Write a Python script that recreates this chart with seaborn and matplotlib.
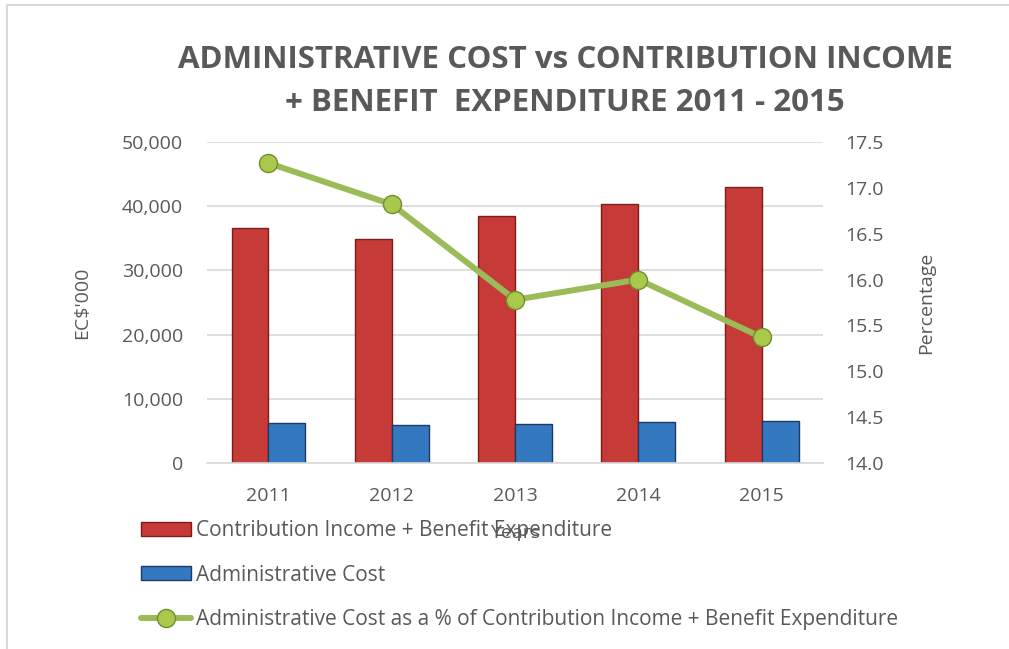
import numpy as np
import pandas as pd
import matplotlib.pyplot as plt
import seaborn as sns
from matplotlib.lines import Line2D
from matplotlib.patches import Patch

# ---- data ----
years = ['2011', '2012', '2013', '2014', '2015']
contrib_benefit = [36600, 34900, 38500, 40400, 43000]   # EC$'000
admin_cost = [6200, 5900, 6100, 6400, 6500]             # EC$'000
admin_pct = [17.27, 16.82, 15.78, 16.00, 15.37]         # percentage

lbl_red = 'Contribution Income + Benefit Expenditure'
lbl_blue = 'Administrative Cost'
lbl_line = 'Administrative Cost as a % of Contribution Income + Benefit Expenditure'

red, red_edge = '#C63A38', '#7E1B1B'
blue, blue_edge = '#3478C0', '#1B3A66'
green, green_mk, green_edge = '#9BBB59', '#A9C84C', '#6E8F2E'
text_col = '#595959'
fs = 14

sns.set_theme(style='white')
plt.rcParams['font.family'] = ['Open Sans', 'DejaVu Sans']
plt.rcParams['text.color'] = text_col
plt.rcParams['axes.labelcolor'] = text_col
plt.rcParams['xtick.color'] = text_col
plt.rcParams['ytick.color'] = text_col

df = pd.DataFrame({
    'Year': years * 2,
    'Value': contrib_benefit + admin_cost,
    'Series': [lbl_red] * len(years) + [lbl_blue] * len(years),
})

fig = plt.figure(figsize=(10.09, 6.49), dpi=100)
ax = fig.add_axes([0.205, 0.2866, 0.611, 0.4946])

sns.barplot(data=df, x='Year', y='Value', hue='Series', order=years,
            palette=[red, blue], width=0.6, gap=0, dodge=True,
            saturation=1, legend=False, ax=ax)
for i, p in enumerate(ax.patches):
    p.set_edgecolor(red_edge if i < len(years) else blue_edge)
    p.set_linewidth(1.0)

ax.set_ylim(0, 50000)
ax.set_yticks(np.arange(0, 50001, 10000))
ax.set_yticklabels([f'{v:,}' for v in range(0, 50001, 10000)], fontsize=fs)
ax.tick_params(axis='x', labelsize=fs, pad=17, length=0)
ax.tick_params(axis='y', length=0, pad=17)
ax.yaxis.grid(True, color='#D9D9D9', linewidth=1.2)
ax.set_axisbelow(True)
for s in ['top', 'right', 'left']:
    ax.spines[s].set_visible(False)
ax.spines['bottom'].set_color('#D9D9D9')
ax.spines['bottom'].set_linewidth(1.2)
ax.set_xlabel('Years', fontsize=fs, labelpad=14)
ax.set_ylabel("EC\\$'000", fontsize=fs, labelpad=22)

ax2 = ax.twinx()
sns.pointplot(x=years, y=admin_pct, order=years, color=green, ax=ax2,
              linewidth=4.3, markersize=13, markerfacecolor=green_mk,
              markeredgecolor=green_edge, markeredgewidth=1.0)
ax2.set_ylim(14.0, 17.5)
ax2.set_yticks(np.arange(14.0, 17.51, 0.5))
ax2.set_yticklabels([f'{v:.1f}' for v in np.arange(14.0, 17.51, 0.5)], fontsize=fs)
ax2.tick_params(axis='y', length=0, pad=16)
ax2.grid(False)
for s in ax2.spines.values():
    s.set_visible(False)
ax2.set_ylabel('Percentage', fontsize=fs, labelpad=24)
ax2.set_xlim(-0.5, 4.5)

fig.text(0.56, 1 - 60 / 649, 'ADMINISTRATIVE COST vs CONTRIBUTION INCOME',
         ha='center', va='center', fontsize=22.5, fontweight='bold', color=text_col)
fig.text(0.56, 1 - 103 / 649, '+ BENEFIT  EXPENDITURE 2011 - 2015',
         ha='center', va='center', fontsize=22.5, fontweight='bold', color=text_col)

handles = [
    Patch(facecolor=red, edgecolor=red_edge),
    Patch(facecolor=blue, edgecolor=blue_edge),
    Line2D([0], [0], color=green, linewidth=4.3, marker='o', markersize=13,
           markerfacecolor=green_mk, markeredgecolor=green_edge),
]
fig.legend(handles, [lbl_red, lbl_blue, lbl_line], loc='upper left',
           bbox_to_anchor=(0.129, 1 - 510 / 649), frameon=False, fontsize=15,
           handlelength=2.4, handleheight=0.65, handletextpad=0.28,
           labelspacing=1.12, borderpad=0, labelcolor=text_col)

fig.patches.append(plt.Rectangle((0.007, -0.01), 1.0, 1.002, transform=fig.transFigure,
                                 fill=False, edgecolor='#D9D9D9', linewidth=1.5))

fig.savefig('out.png', dpi=100)
